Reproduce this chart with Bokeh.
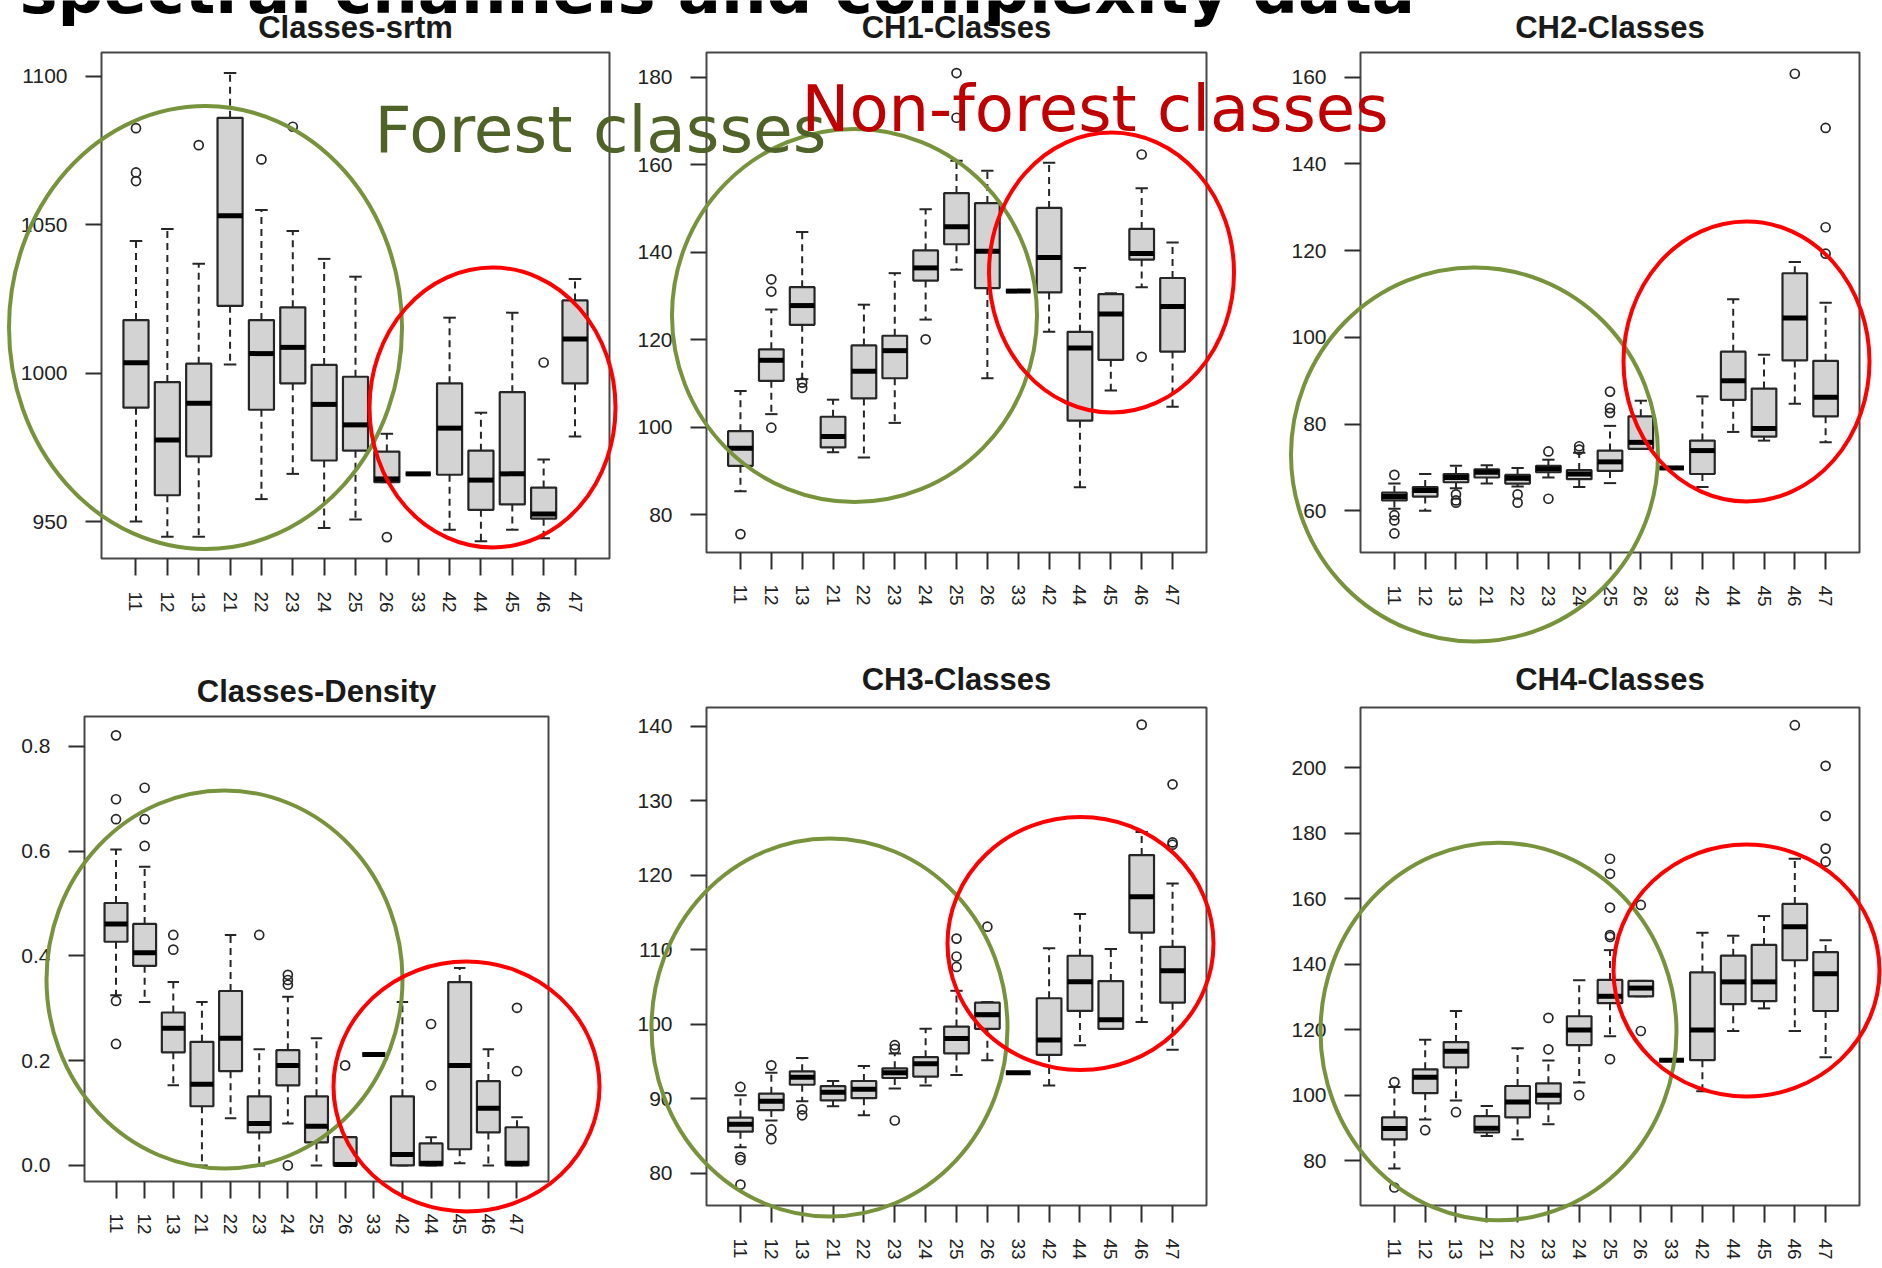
from bokeh.plotting import figure
from bokeh.layouts import column
from bokeh.models import Range1d, FixedTicker, ColumnDataSource, PrintfTickFormatter
from bokeh.core.properties import value
from bokeh.embed import file_html
from bokeh.resources import INLINE

# ---------------- data ----------------
classes = ["11", "12", "13", "21", "22", "23", "24", "25", "26", "33", "42", "44", "45", "46", "47"]

srtm_lo  = [950.1, 944.9, 944.9, 1002.9, 957.6, 966.1, 947.9, 950.7, 963.3, 966.1, 947.3, 943.4, 947.3, 944.4, 978.7]
srtm_q1  = [988.4, 958.9, 972.0, 1022.7, 987.7, 996.6, 970.6, 973.9, 963.3, 966.1, 965.8, 954.0, 955.8, 951.0, 996.6]
srtm_med = [1003.5, 977.5, 989.9, 1053.0, 1006.6, 1008.7, 989.5, 982.6, 964.4, 966.1, 981.5, 964.0, 966.1, 952.6, 1011.5]
srtm_q3  = [1017.9, 997.0, 1003.2, 1086.0, 1017.9, 1022.2, 1002.8, 998.8, 973.6, 966.1, 996.6, 973.9, 993.6, 961.5, 1024.5]
srtm_hi  = [1044.5, 1048.6, 1036.9, 1101.1, 1055.0, 1047.9, 1038.5, 1032.5, 979.6, 966.1, 1018.7, 986.7, 1020.4, 970.9, 1031.7]
srtm_out = [[1082.5, 1067.6, 1064.7], [], [1076.8], [], [1072.0], [1083.0], [], [], [944.8], [], [], [], [], [1003.6], []]

ch1_lo  = [85.4, 103.0, 111.0, 94.3, 93.1, 101.0, 124.6, 136.0, 111.2, 131.1, 121.8, 86.3, 108.4, 132.0, 104.7]
ch1_q1  = [91.2, 110.6, 123.4, 95.4, 106.6, 111.2, 133.5, 141.8, 131.8, 131.1, 130.8, 101.5, 115.4, 138.3, 117.3]
ch1_med = [95.2, 115.3, 127.8, 97.9, 112.8, 117.5, 136.4, 145.8, 140.2, 131.1, 138.8, 118.1, 125.9, 139.7, 127.6]
ch1_q3  = [99.1, 117.8, 132.0, 102.4, 118.7, 120.9, 140.4, 153.5, 151.2, 131.1, 150.1, 121.8, 130.4, 145.3, 134.1]
ch1_hi  = [108.3, 126.9, 144.6, 106.3, 128.0, 135.2, 149.8, 160.9, 158.6, 131.1, 160.4, 136.4, 130.6, 154.6, 142.2]
ch1_out = [[75.6], [133.8, 131.0, 99.9], [110.2, 109.0], [], [], [], [120.1], [180.9, 170.7], [], [], [], [], [], [162.3, 116.1], []]

ch2_lo  = [60.5, 60.0, 65.2, 66.3, 65.6, 67.7, 65.5, 66.4, 74.3, 69.9, 65.5, 78.2, 76.2, 84.7, 75.8]
ch2_q1  = [62.4, 63.3, 66.6, 67.7, 66.3, 68.9, 67.3, 69.2, 74.3, 69.9, 68.5, 85.6, 77.1, 94.7, 81.8]
ch2_med = [63.3, 64.7, 67.7, 68.9, 67.5, 69.7, 68.5, 71.3, 75.8, 69.9, 73.9, 90.0, 79.0, 104.5, 86.2]
ch2_q3  = [64.2, 65.5, 68.5, 69.6, 68.3, 70.4, 69.4, 73.9, 81.8, 69.9, 76.2, 96.7, 88.2, 114.8, 94.6]
ch2_hi  = [66.3, 68.5, 70.4, 70.5, 69.9, 71.8, 73.4, 79.6, 85.4, 69.9, 86.4, 108.8, 96.0, 117.4, 108.0]
ch2_out = [[68.3, 59.0, 57.8, 54.8], [], [63.8, 62.4, 61.9], [], [63.8, 61.9], [73.7, 62.8], [74.9, 74.1],
           [87.5, 83.7, 82.6], [], [], [], [], [], [160.8], [148.3, 125.4, 119.3]]

den_lo  = [0.325, 0.312, 0.153, 0.0, 0.090, 0.0, 0.080, 0.0, 0.0, 0.212, 0.0, 0.0, 0.004, 0.0, 0.0]
den_q1  = [0.427, 0.381, 0.216, 0.113, 0.180, 0.063, 0.153, 0.044, 0.0, 0.212, 0.0, 0.0, 0.031, 0.063, 0.0]
den_med = [0.461, 0.406, 0.262, 0.155, 0.243, 0.080, 0.191, 0.075, 0.002, 0.212, 0.021, 0.004, 0.191, 0.109, 0.004]
den_q3  = [0.501, 0.461, 0.292, 0.236, 0.333, 0.132, 0.220, 0.132, 0.054, 0.212, 0.132, 0.042, 0.350, 0.161, 0.073]
den_hi  = [0.603, 0.570, 0.350, 0.312, 0.440, 0.222, 0.322, 0.243, 0.054, 0.212, 0.312, 0.054, 0.377, 0.222, 0.092]
den_out = [[0.821, 0.699, 0.661, 0.314, 0.232], [0.721, 0.661, 0.610], [0.440, 0.412], [], [], [0.440],
           [0.364, 0.354, 0.345, 0.0], [], [0.191], [], [], [0.270, 0.153], [], [], [0.301, 0.180]]

ch3_lo  = [83.5, 87.1, 89.7, 89.0, 87.8, 91.4, 91.8, 93.2, 95.2, 93.5, 91.8, 97.2, 99.4, 100.3, 96.6]
ch3_q1  = [85.6, 88.5, 91.9, 89.8, 90.1, 92.8, 93.0, 96.1, 99.4, 93.5, 95.9, 101.8, 99.4, 112.3, 102.9]
ch3_med = [86.6, 89.7, 92.9, 90.9, 91.3, 93.5, 94.7, 98.1, 101.3, 93.5, 97.9, 105.7, 100.6, 117.1, 107.2]
ch3_q3  = [87.5, 90.7, 93.7, 91.7, 92.4, 94.1, 95.6, 99.7, 102.9, 93.5, 103.5, 109.2, 105.8, 122.7, 110.4]
ch3_hi  = [90.5, 93.5, 95.5, 92.4, 94.4, 96.1, 99.4, 104.5, 103.0, 93.5, 110.2, 114.8, 110.1, 125.8, 118.9]
ch3_out = [[91.6, 82.2, 81.8, 78.5], [94.5, 85.9, 84.6], [88.6, 87.8], [], [], [97.2, 96.7, 87.1], [],
           [111.5, 109.1, 107.7], [113.1], [], [], [], [], [140.2], [132.2, 124.4, 124.1]]

ch4_lo  = [77.6, 92.6, 98.4, 87.5, 86.5, 91.1, 103.9, 118.0, 130.2, 110.7, 101.2, 119.6, 126.5, 119.6, 111.6]
ch4_q1  = [86.5, 100.6, 108.5, 88.6, 93.2, 97.5, 115.3, 128.1, 130.2, 110.7, 110.7, 127.8, 128.7, 141.2, 125.7]
ch4_med = [89.8, 105.5, 113.4, 89.9, 97.9, 100.0, 119.9, 130.2, 132.7, 110.7, 119.9, 134.6, 134.6, 151.4, 137.1]
ch4_q3  = [93.2, 107.9, 116.2, 93.6, 102.8, 103.6, 124.1, 135.2, 134.9, 110.7, 137.5, 142.6, 145.9, 158.4, 143.7]
ch4_hi  = [102.5, 116.9, 125.7, 96.7, 114.3, 110.6, 135.1, 144.3, 134.9, 110.7, 149.6, 148.7, 154.7, 172.2, 147.3]
ch4_out = [[104.0, 71.8], [89.3], [94.8], [], [], [123.6, 114.0], [100.0],
           [172.2, 167.6, 157.3, 148.9, 148.3, 111.0], [158.1, 119.6], [], [], [], [], [213.0],
           [200.6, 185.3, 175.3, 171.3]]

panel_titles = ["Classes-srtm", "CH1-Classes", "CH2-Classes", "Classes-Density", "CH3-Classes", "CH4-Classes"]
srtm_ticks = [950, 1000, 1050, 1100]
ch1_ticks = [80, 100, 120, 140, 160, 180]
ch2_ticks = [60, 80, 100, 120, 140, 160]
den_ticks = [0.0, 0.2, 0.4, 0.6, 0.8]
ch3_ticks = [80, 90, 100, 110, 120, 130, 140]
ch4_ticks = [80, 100, 120, 140, 160, 180, 200]

main_title = "spectral channels and complexity data"
forest_label = "Forest classes"
nonforest_label = "Non-forest classes"

# ---------------- layout (page pixel geometry) ----------------
PAGE_W, PAGE_H = 1882, 1268
# cell: (x0, x1, y0, y1); frame: (x0, x1, y0, y1) in page pixels
cells = [(0, 630, 0, 625), (630, 1250, 0, 625), (1250, 1882, 0, 625),
         (0, 630, 625, 1268), (630, 1250, 625, 1268), (1250, 1882, 625, 1268)]
frames = [(101, 609, 52, 558), (706, 1206, 52, 552), (1360, 1859, 52, 552),
          (84, 548, 716, 1181), (706, 1206, 707, 1205), (1360, 1859, 707, 1205)]
yranges = [(937.6, 1108.0), (71.4, 185.6), (50.4, 165.7), (-0.0306, 0.857), (75.7, 142.5), (66.3, 218.4)]
title_standoff = [15, 15, 15, 16, 21, 21]
xlabel_standoff = [16, 15, 16, 15, 16, 16]

# annotation ellipses (page pixels): cx, cy, w, h
green_ell = [(205, 327, 393, 443), (854, 315, 365, 373), (1474, 454, 367, 374),
             (224, 979, 356, 378), (829, 1027, 356, 378), (1498, 1031, 356, 378)]
red_ell = [(492, 407, 246, 280), (1111, 272, 245, 280), (1746, 361, 246, 280),
           (466, 1086, 266, 250), (1080, 943, 266, 253), (1746, 970, 266, 252)]

panel_data = [
    (srtm_lo, srtm_q1, srtm_med, srtm_q3, srtm_hi, srtm_out, srtm_ticks),
    (ch1_lo, ch1_q1, ch1_med, ch1_q3, ch1_hi, ch1_out, ch1_ticks),
    (ch2_lo, ch2_q1, ch2_med, ch2_q3, ch2_hi, ch2_out, ch2_ticks),
    (den_lo, den_q1, den_med, den_q3, den_hi, den_out, den_ticks),
    (ch3_lo, ch3_q1, ch3_med, ch3_q3, ch3_hi, ch3_out, ch3_ticks),
    (ch4_lo, ch4_q1, ch4_med, ch4_q3, ch4_hi, ch4_out, ch4_ticks),
]

INK = "#262626"
LABEL_FONT = "Liberation Sans"


def make_panel(i):
    lo, q1, med, q3, hi, outl, yt = panel_data[i]
    cx0, cx1, cy0, cy1 = cells[i]
    fx0, fx1, fy0, fy1 = frames[i]
    p = figure(width=cx1 - cx0, height=cy1 - cy0,
               x_range=Range1d(-0.1, len(classes) + 1.1),
               y_range=Range1d(*yranges[i]),
               output_backend="svg", toolbar_location=None,
               min_border_left=fx0 - cx0, min_border_right=cx1 - fx1,
               min_border_top=fy0 - cy0, min_border_bottom=cy1 - fy1,
               background_fill_color="white", border_fill_color="white")
    p.title.text = panel_titles[i]
    p.title.align = "center"
    p.title.text_font = LABEL_FONT
    p.title.text_font_style = "bold"
    p.title.text_font_size = "31px"
    p.title.text_color = "#1a1a1a"
    p.title.standoff = title_standoff[i]

    p.outline_line_color = "#474747"
    p.outline_line_width = 2
    p.xgrid.visible = False
    p.ygrid.visible = False

    pos = list(range(1, len(classes) + 1))
    src = ColumnDataSource(dict(
        x=pos, lo=lo, q1=q1, med=med, q3=q3, hi=hi,
        xl=[v - 0.4 for v in pos], xr=[v + 0.4 for v in pos],
        sl=[v - 0.2 for v in pos], sr=[v + 0.2 for v in pos]))

    # whiskers (dashed) and staples
    p.segment(x0="x", y0="q3", x1="x", y1="hi", source=src, line_color=INK, line_width=2, line_dash="7 5")
    p.segment(x0="x", y0="q1", x1="x", y1="lo", source=src, line_color=INK, line_width=2, line_dash="7 5")
    p.segment(x0="sl", y0="hi", x1="sr", y1="hi", source=src, line_color=INK, line_width=2)
    p.segment(x0="sl", y0="lo", x1="sr", y1="lo", source=src, line_color=INK, line_width=2)
    # boxes
    p.vbar(x="x", width=0.8, bottom="q1", top="q3", source=src,
           fill_color="#d3d3d3", line_color=INK, line_width=2.2)
    # medians
    p.segment(x0="xl", y0="med", x1="xr", y1="med", source=src, line_color="black", line_width=5,
              line_cap="butt")
    # outliers
    ox, oy = [], []
    for k, vals in enumerate(outl):
        for v in vals:
            ox.append(k + 1)
            oy.append(v)
    p.scatter(ox, oy, marker="circle", size=9, fill_color=None, line_color=INK, line_width=1.7)

    # axes
    p.xaxis.ticker = FixedTicker(ticks=pos)
    p.xaxis.major_label_overrides = {k + 1: c for k, c in enumerate(classes)}
    p.xaxis.major_label_orientation = "vertical"
    p.xaxis.major_label_standoff = xlabel_standoff[i]
    p.xaxis.major_tick_out = 17
    p.xaxis.major_label_text_font_size = "19px"

    p.yaxis.ticker = FixedTicker(ticks=yt)
    if i == 3:
        p.yaxis.formatter = PrintfTickFormatter(format="%.1f")
    p.yaxis.major_label_standoff = 18
    p.yaxis.major_tick_out = 16
    p.yaxis.major_label_text_font_size = "21px"

    for ax in (p.xaxis[0], p.yaxis[0]):
        ax.axis_line_color = None
        ax.major_tick_in = 0
        ax.major_tick_line_width = 2
        ax.major_tick_line_color = "#2e2e2e"
        ax.minor_tick_line_color = None
        ax.major_label_text_font = LABEL_FONT
        ax.major_label_text_color = "#222222"
    return p


panels = [make_panel(i) for i in range(6)]
# each panel placed at its own page position (avoids border alignment between neighbours)
wrappers = []
for i, p in enumerate(panels):
    cx0, cx1, cy0, cy1 = cells[i]
    wrappers.append(column(p, styles={"position": "absolute", "left": f"{cx0}px", "top": f"{cy0}px"}))

# ---------------- overlay (annotations drawn over the whole page) ----------------
ov = figure(width=PAGE_W, height=PAGE_H, x_range=Range1d(0, PAGE_W), y_range=Range1d(PAGE_H, 0),
            output_backend="svg", toolbar_location=None, min_border=0,
            x_axis_location=None, y_axis_location=None,
            background_fill_color=None, border_fill_color=None, outline_line_color=None)
ov.xgrid.visible = False
ov.ygrid.visible = False

ov.ellipse(x=[e[0] for e in green_ell], y=[e[1] for e in green_ell],
           width=[e[2] for e in green_ell], height=[e[3] for e in green_ell],
           width_units="screen", height_units="screen",
           fill_color=None, line_color="#77933c", line_width=4)
ov.ellipse(x=[e[0] for e in red_ell], y=[e[1] for e in red_ell],
           width=[e[2] for e in red_ell], height=[e[3] for e in red_ell],
           width_units="screen", height_units="screen",
           fill_color=None, line_color="#ff0000", line_width=4)

# text anchors (baseline correction of ~22px observed for the alphabetic baseline)
ov.text(x=[19], y=[-9.5], text=[main_title], text_font=value("DejaVu Sans"), text_font_style="bold",
        text_font_size="64px", text_color="black", text_align="left", text_baseline="alphabetic")
ov.text(x=[374], y=[129], text=[forest_label], text_font=value("DejaVu Sans"),
        text_font_size="64.5px", text_color="#4f6228", text_align="left", text_baseline="alphabetic")
ov.text(x=[801], y=[108.5], text=[nonforest_label], text_font=value("DejaVu Sans"),
        text_font_size="64px", text_color="#c00000", text_align="left", text_baseline="alphabetic")

ov_wrap = column(ov, styles={"position": "absolute", "left": "0px", "top": "0px", "pointer-events": "none"})
root = column(*wrappers, ov_wrap,
              styles={"position": "relative", "width": f"{PAGE_W}px", "height": f"{PAGE_H}px"})

open("out.html", "w").write(file_html(root, INLINE))
